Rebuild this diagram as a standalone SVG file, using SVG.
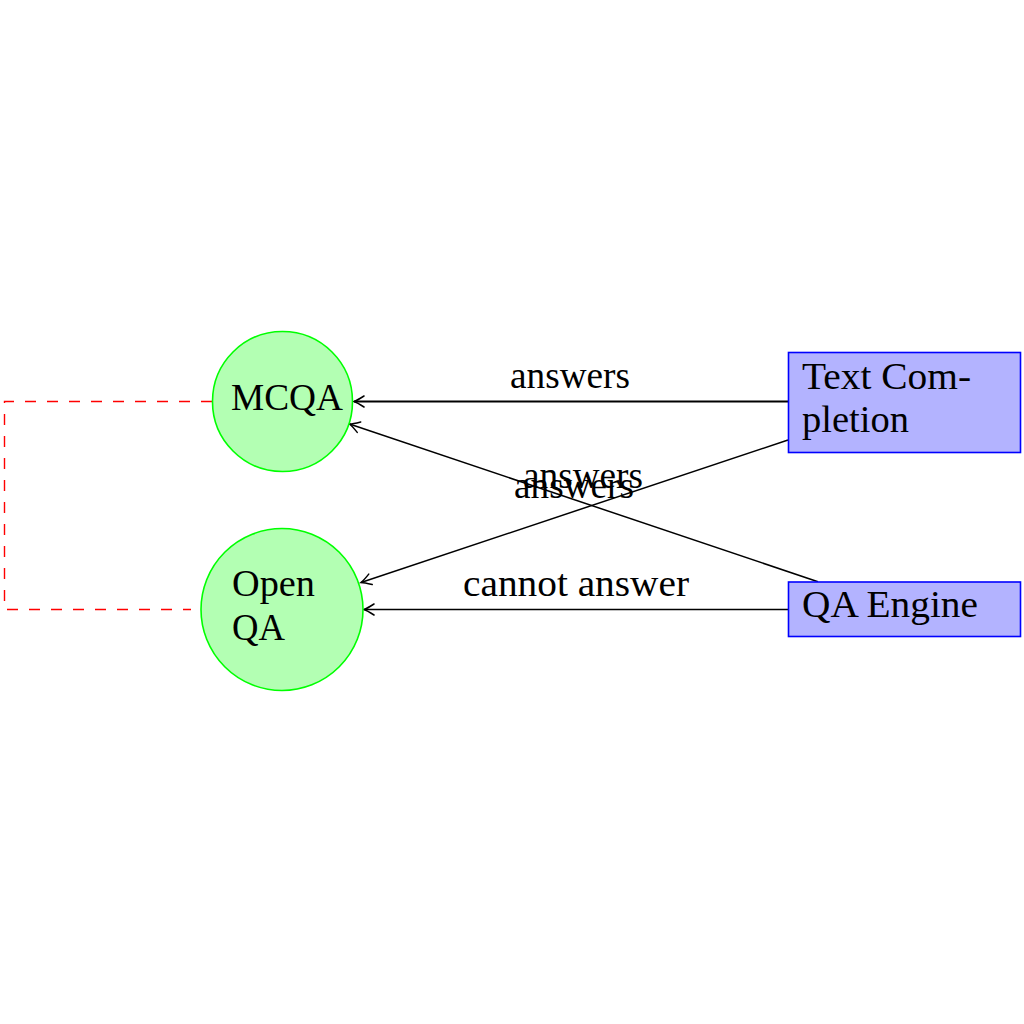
<svg xmlns="http://www.w3.org/2000/svg" width="1024" height="1024" viewBox="0 0 1024 1024">
<style>
text{font-family:"Liberation Serif","Times New Roman",serif;font-size:37px;fill:#000}
.circ{fill:#b3ffb3;stroke:#00ff00;stroke-width:1.6}
.box{fill:#b3b3ff;stroke:#0000ff;stroke-width:1.6}
.edge{fill:none;stroke:#000;stroke-width:1.5}
.dash{fill:none;stroke:#ff0000;stroke-width:1.4;stroke-dasharray:11 11}
</style>
<defs>
<marker id="ah" markerUnits="userSpaceOnUse" markerWidth="14" markerHeight="14" viewBox="-12 -7 14 14" refX="0" refY="0" orient="auto">
<path d="M-10,-5.5 Q-3,-1 0,0 Q-3,1 -10,5.5" fill="none" stroke="#000" stroke-width="1.5" stroke-linecap="round"/>
</marker>
</defs>
<rect width="1024" height="1024" fill="#fff"/>
<g id="connectors">
<path class="dash" d="M212,401.5 H4.5 V609.5 H191"/>
<path class="edge" d="M788,401.5 L354,401.5" marker-end="url(#ah)" style="stroke-width:1.9"/>
<path class="edge" d="M788,440 L361,582.5" marker-end="url(#ah)"/>
<path class="edge" d="M818,581.7 L349.5,424" marker-end="url(#ah)"/>
<path class="edge" d="M788,609.5 L364,609.5" marker-end="url(#ah)"/>
<text x="570" y="388" text-anchor="middle" textLength="120" lengthAdjust="spacingAndGlyphs">answers</text>
<text x="583" y="488" text-anchor="middle" textLength="120" lengthAdjust="spacingAndGlyphs">answers</text>
<text x="574" y="498" text-anchor="middle" textLength="120" lengthAdjust="spacingAndGlyphs">answers</text>
<text x="576" y="596" text-anchor="middle" textLength="226" lengthAdjust="spacingAndGlyphs">cannot answer</text>
</g>
<g id="mcqa">
<circle class="circ" cx="282.5" cy="401.5" r="70"/>
<text x="231" y="410" textLength="112" lengthAdjust="spacingAndGlyphs">MCQA</text>
</g>
<g id="openqa">
<circle class="circ" cx="282" cy="609.5" r="81"/>
<text x="232" y="596" textLength="83" lengthAdjust="spacingAndGlyphs">Open</text>
<text x="232" y="640" textLength="53" lengthAdjust="spacingAndGlyphs">QA</text>
</g>
<g id="textcompletion">
<rect class="box" x="788.5" y="352.5" width="232" height="100"/>
<text x="802" y="389" textLength="169" lengthAdjust="spacingAndGlyphs">Text Com-</text>
<text x="802" y="432" textLength="107" lengthAdjust="spacingAndGlyphs">pletion</text>
</g>
<g id="qaengine">
<rect class="box" x="788.5" y="582" width="232" height="54.5"/>
<text x="802" y="617" textLength="176" lengthAdjust="spacingAndGlyphs">QA Engine</text>
</g>
</svg>
